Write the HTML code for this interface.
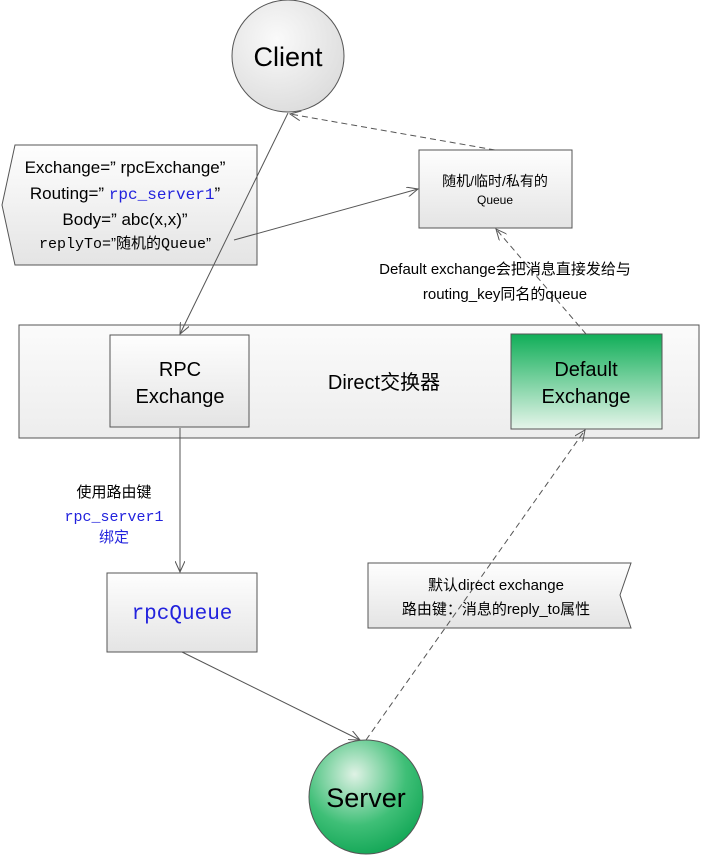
<!DOCTYPE html>
<html><head><meta charset="utf-8"><style>
body{margin:0;background:#fff;}
svg{display:block;font-family:"Liberation Sans","Noto Sans CJK SC",sans-serif;}
.m{font-family:"Liberation Mono","Noto Sans CJK SC",monospace;}
</style></head><body>
<svg width="702" height="857" viewBox="0 0 702 857" xmlns="http://www.w3.org/2000/svg">
<defs>
<linearGradient id="g" x1="0" y1="0" x2="0" y2="1"><stop offset="0" stop-color="#fefefe"/><stop offset="1" stop-color="#e4e4e4"/></linearGradient>
<linearGradient id="gb" x1="0" y1="0" x2="0" y2="1"><stop offset="0" stop-color="#fbfbfb"/><stop offset="1" stop-color="#ededed"/></linearGradient>
<linearGradient id="gr" x1="0" y1="0" x2="0" y2="1"><stop offset="0" stop-color="#10ae58"/><stop offset="1" stop-color="#e6f5ea"/></linearGradient>
<radialGradient id="rc" cx="0.4" cy="0.35" r="0.7"><stop offset="0" stop-color="#fafafa"/><stop offset="1" stop-color="#dcdcdc"/></radialGradient>
<radialGradient id="rs" cx="0.4" cy="0.3" r="0.75"><stop offset="0" stop-color="#dff2e5"/><stop offset="0.6" stop-color="#3fbf77"/><stop offset="1" stop-color="#10a554"/></radialGradient>
<marker id="a" markerWidth="12" markerHeight="10" refX="11" refY="5" orient="auto" markerUnits="userSpaceOnUse"><path d="M0,0 L11,5 L0,10" fill="none" stroke="#555" stroke-width="1"/></marker>
</defs>
<g stroke="#555" stroke-width="1">
<circle cx="288" cy="56" r="56" fill="url(#rc)"/>
<polygon points="15,145 257,145 257,265 15,265 2,205" fill="url(#g)"/>
<rect x="419" y="150" width="153" height="78" fill="url(#g)"/>
<rect x="19" y="325" width="680" height="113" fill="url(#gb)"/>
<rect x="110" y="335" width="139" height="92" fill="url(#g)"/>
<rect x="511" y="334" width="151" height="95" fill="url(#gr)"/>
<rect x="107" y="573" width="150" height="79" fill="url(#g)"/>
<polygon points="368,563 631,563 620,595 631,628 368,628" fill="url(#g)"/>
<circle cx="366" cy="797" r="57" fill="url(#rs)"/>
</g>
<g stroke="#555" stroke-width="1" fill="none">
<line x1="288" y1="113" x2="180" y2="334" marker-end="url(#a)"/>
<line x1="234" y1="240" x2="418" y2="189" marker-end="url(#a)"/>
<line x1="495" y1="150" x2="290" y2="114" stroke-dasharray="6,4" marker-end="url(#a)"/>
<line x1="586" y1="334" x2="496" y2="229" stroke-dasharray="6,4" marker-end="url(#a)"/>
<line x1="180" y1="428" x2="180" y2="572" marker-end="url(#a)"/>
<line x1="182" y1="652" x2="360" y2="740" marker-end="url(#a)"/>
<line x1="366" y1="740" x2="585" y2="430" stroke-dasharray="6,4" marker-end="url(#a)"/>
</g>
<g text-anchor="middle" fill="#000">
<text x="288" y="66" font-size="27">Client</text>
<text x="125" y="173" font-size="17">Exchange=” rpcExchange”</text>
<text x="125" y="199" font-size="17">Routing=” <tspan class="m" fill="#2222dd" font-size="16">rpc_server1</tspan>”</text>
<text x="125" y="225" font-size="17">Body=” abc(x,x)”</text>
<text x="125" y="248" font-size="15"><tspan class="m">replyTo=</tspan>”随机的<tspan class="m">Queue</tspan>”</text>
<text x="495" y="186" font-size="14">随机/临时/私有的</text>
<text x="495" y="204" font-size="12">Queue</text>
<text x="505" y="274" font-size="15">Default exchange会把消息直接发给与</text>
<text x="505" y="299" font-size="15">routing_key同名的queue</text>
<text x="180" y="376" font-size="20">RPC</text>
<text x="180" y="403" font-size="20">Exchange</text>
<text x="384" y="389" font-size="20">Direct交换器</text>
<text x="586" y="376" font-size="20">Default</text>
<text x="586" y="403" font-size="20">Exchange</text>
<text x="114" y="497" font-size="15">使用路由键</text>
<text x="114" y="521" font-size="15" class="m" fill="#2222dd">rpc_server1</text>
<text x="114" y="542" font-size="15" fill="#2222dd">绑定</text>
<text x="182" y="619" font-size="21" class="m" fill="#2222dd">rpcQueue</text>
<text x="496" y="590" font-size="15">默认direct exchange</text>
<text x="496" y="614" font-size="15">路由键：消息的reply_to属性</text>
<text x="366" y="807" font-size="27">Server</text>
</g>
</svg>
</body></html>
